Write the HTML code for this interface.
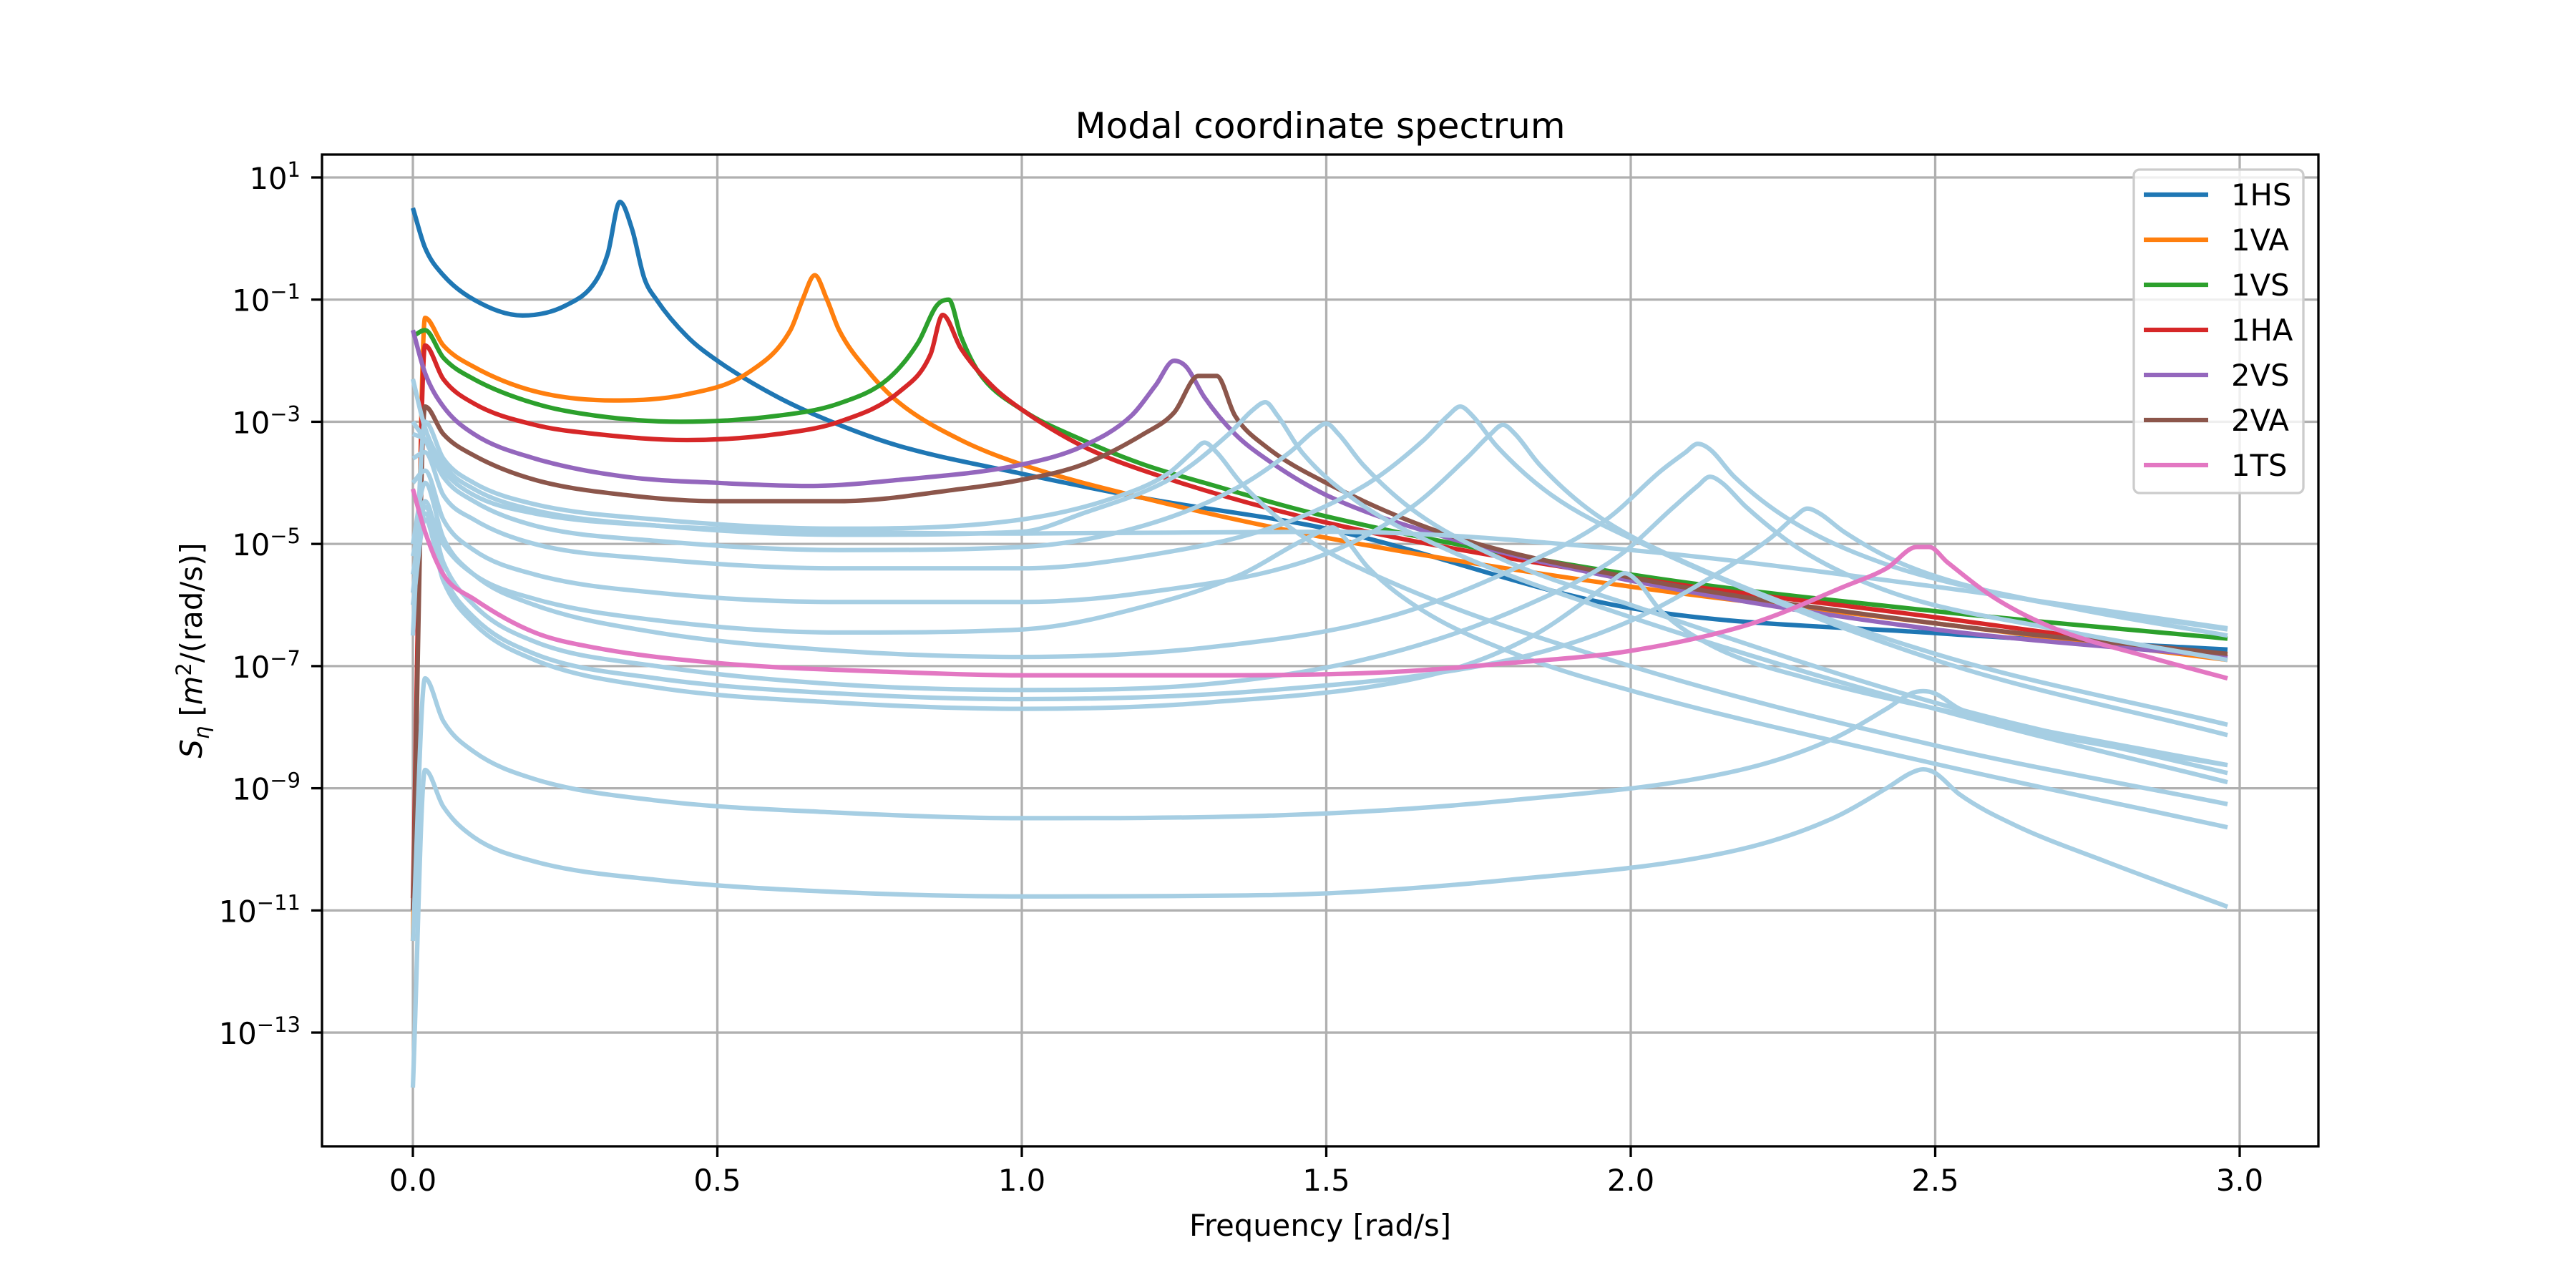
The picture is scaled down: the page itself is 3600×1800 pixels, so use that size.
<!DOCTYPE html>
<html><head><meta charset="utf-8"><style>
html,body{margin:0;padding:0;background:#fff;}
svg{display:block;font-family:"DejaVu Sans","Liberation Sans",sans-serif;}
</style></head><body>
<svg id="chart" width="3600" height="1800" viewBox="0 0 3600 1800" xmlns="http://www.w3.org/2000/svg">
<rect width="3600" height="1800" fill="#fff"/>
<defs><clipPath id="plotclip"><rect x="450" y="216" width="2790" height="1386"/></clipPath></defs>
<g id="grid"></g>
<g id="series" clip-path="url(#plotclip)"></g>
<rect x="450" y="216" width="2790" height="1386" fill="none" stroke="#000" stroke-width="3.3"/>
<g id="ticks"></g>
<text x="1845" y="193" font-size="50" text-anchor="middle">Modal coordinate spectrum</text>
<text x="1845" y="1727" font-size="41.7" text-anchor="middle">Frequency [rad/s]</text>
<text transform="translate(282,909) rotate(-90)" font-size="41.7" text-anchor="middle"><tspan font-style="italic">S</tspan><tspan font-style="italic" font-size="29" dy="10">η</tspan><tspan dy="-10"> [</tspan><tspan font-style="italic">m</tspan><tspan font-size="29" dy="-15">2</tspan><tspan dy="15">/(rad/s)]</tspan></text>
<g id="legend"></g>
</svg>
<script>
// ---- data: frequency [rad/s] and log10 of spectral values ----
const xTicks = [0.0, 0.5, 1.0, 1.5, 2.0, 2.5, 3.0];
const xTickLabels = ["0.0", "0.5", "1.0", "1.5", "2.0", "2.5", "3.0"];
const yTickExps = [1, -1, -3, -5, -7, -9, -11, -13];
const legendNames = ["1HS", "1VA", "1VS", "1HA", "2VS", "2VA", "1TS"];
const legendColors = ["#1f77b4", "#ff7f0e", "#2ca02c", "#d62728", "#9467bd", "#8c564b", "#e377c2"];
const lightBlue = "#a6cee3";

const hs1W = [0,0.02,0.05,0.1,0.18,0.25,0.3,0.32,0.34,0.36,0.38,0.4,0.45,0.5,0.6,0.7,0.8,1.0,1.2,1.5,2.0,2.5,2.98];
const hs1E = [0.5,-0.15,-0.6,-1.0,-1.26,-1.1,-0.7,-0.25,0.6,0.15,-0.65,-1.0,-1.6,-2.0,-2.6,-3.05,-3.4,-3.85,-4.25,-4.75,-6.05,-6.46,-6.73];
const va1W = [0,0.02,0.05,0.1,0.2,0.33,0.45,0.55,0.62,0.64,0.66,0.68,0.7,0.75,0.8,0.9,1.0,1.2,1.5,2.0,2.5,2.98];
const va1E = [-11.5,-1.3,-1.75,-2.1,-2.5,-2.65,-2.55,-2.2,-1.5,-1.0,-0.6,-1.0,-1.5,-2.2,-2.7,-3.3,-3.7,-4.25,-4.9,-5.7,-6.3,-6.9];
const vs1W = [0,0.02,0.05,0.1,0.2,0.3,0.44,0.6,0.7,0.78,0.83,0.86,0.88,0.9,0.93,1.0,1.1,1.2,1.3,1.5,2.0,2.5,2.98];
const vs1E = [-1.6,-1.5,-1.95,-2.3,-2.7,-2.9,-3.0,-2.9,-2.7,-2.3,-1.7,-1.1,-1.0,-1.6,-2.2,-2.8,-3.3,-3.7,-4.0,-4.55,-5.5,-6.1,-6.55];
const ha1W = [0,0.02,0.05,0.1,0.2,0.3,0.45,0.6,0.7,0.8,0.85,0.87,0.9,0.95,1.0,1.1,1.2,1.5,2.0,2.5,2.98];
const ha1E = [-10.8,-1.75,-2.3,-2.7,-3.05,-3.2,-3.3,-3.2,-3.0,-2.5,-1.9,-1.25,-1.8,-2.4,-2.8,-3.4,-3.8,-4.65,-5.55,-6.2,-6.85];
const vs2W = [0,0.02,0.05,0.1,0.2,0.35,0.5,0.65,0.8,1.0,1.1,1.18,1.22,1.25,1.27,1.3,1.35,1.4,1.5,1.7,2.0,2.5,2.98];
const vs2E = [-1.5,-2.2,-2.75,-3.2,-3.6,-3.9,-4.0,-4.05,-3.95,-3.7,-3.4,-2.9,-2.4,-2.0,-2.1,-2.6,-3.2,-3.6,-4.2,-4.9,-5.6,-6.4,-6.85];
const va2W = [0,0.02,0.05,0.1,0.2,0.35,0.5,0.7,0.9,1.0,1.1,1.2,1.25,1.29,1.32,1.35,1.4,1.5,1.7,2.0,2.5,2.98];
const va2E = [-11,-2.75,-3.2,-3.55,-3.95,-4.2,-4.3,-4.3,-4.1,-3.95,-3.7,-3.2,-2.85,-2.25,-2.25,-2.9,-3.4,-4.0,-4.85,-5.55,-6.3,-6.8];
const ts1W = [0,0.02,0.05,0.1,0.2,0.3,0.5,0.8,1.0,1.3,1.6,1.8,2.0,2.2,2.35,2.42,2.47,2.49,2.52,2.6,2.7,2.85,2.98];
const ts1E = [-4.1,-4.8,-5.5,-5.9,-6.45,-6.7,-6.95,-7.1,-7.15,-7.15,-7.1,-6.95,-6.75,-6.3,-5.7,-5.4,-5.05,-5.05,-5.3,-5.9,-6.4,-6.85,-7.2];

const lb1W = [0,0.02,0.05,0.1,0.2,0.4,0.7,1.0,1.15,1.24,1.28,1.30,1.32,1.36,1.45,1.6,2.0,2.5,2.98];
const lb1E = [-6.5,-3.0,-3.6,-4.0,-4.35,-4.6,-4.75,-4.6,-4.25,-3.85,-3.5,-3.34,-3.5,-4.0,-4.8,-5.6,-7.0,-8.3,-9.26];
const lb2W = [0,0.02,0.05,0.1,0.2,0.4,0.7,1.0,1.1,1.25,1.34,1.38,1.40,1.42,1.46,1.55,1.7,2.0,2.5,2.98];
const lb2E = [-2.3,-3.1,-3.7,-4.1,-4.45,-4.7,-4.85,-4.8,-4.5,-3.9,-3.2,-2.8,-2.68,-2.9,-3.5,-4.3,-5.1,-6.2,-7.7,-8.9];
const lb3W = [0,0.02,0.05,0.1,0.2,0.4,0.7,1.0,1.2,1.35,1.44,1.48,1.50,1.52,1.56,1.65,1.8,2.0,2.5,2.98];
const lb3E = [-3.0,-3.3,-3.9,-4.3,-4.7,-4.95,-5.1,-5.05,-4.7,-4.1,-3.5,-3.15,-3.03,-3.2,-3.7,-4.5,-5.3,-6.0,-7.6,-8.75];
const lb4W = [0,0.02,0.05,0.1,0.2,0.4,0.7,1.0,1.21,1.36,1.45,1.49,1.51,1.53,1.57,1.66,1.81,2.0,2.5,2.98];
const lb4E = [-5.2,-4.4,-5.0,-5.5,-5.9,-6.25,-6.45,-6.4,-6.0,-5.5,-5.0,-4.8,-4.73,-4.9,-5.4,-6.1,-6.8,-7.4,-8.6,-9.64];
const lb5W = [0,0.02,0.05,0.1,0.2,0.4,0.7,1.0,1.2,1.42,1.57,1.66,1.70,1.72,1.74,1.78,1.87,2.02,2.5,2.98];
const lb5E = [-3.6,-3.5,-4.2,-4.6,-5.0,-5.25,-5.4,-5.4,-5.2,-4.7,-4.0,-3.3,-2.9,-2.75,-2.9,-3.4,-4.2,-5.0,-6.9,-8.13];
const lb6W = [0,0.02,0.05,0.1,0.2,0.4,0.7,1.0,1.2,1.49,1.64,1.73,1.77,1.79,1.81,1.85,1.94,2.09,2.5,2.98];
const lb6E = [-4.0,-3.8,-4.6,-5.1,-5.5,-5.8,-5.95,-5.95,-5.8,-5.2,-4.4,-3.6,-3.2,-3.05,-3.2,-3.7,-4.5,-5.3,-6.8,-7.96];
const lb7W = [0,0.02,0.05,0.1,0.2,0.4,0.7,1.0,1.3,1.69,1.84,1.93,1.97,1.99,2.01,2.05,2.14,2.29,2.6,2.98];
const lb7E = [-6.0,-4.6,-5.6,-6.3,-6.9,-7.35,-7.6,-7.7,-7.6,-7.1,-6.5,-5.9,-5.6,-5.48,-5.6,-6.1,-6.7,-7.2,-7.9,-8.62];
const lb8W = [0,0.02,0.05,0.1,0.2,0.4,0.7,1.0,1.3,1.6,1.81,1.96,2.05,2.09,2.11,2.13,2.17,2.26,2.41,2.7,2.98];
const lb8E = [-5.0,-4.0,-4.9,-5.5,-6.0,-6.45,-6.75,-6.85,-6.7,-6.2,-5.4,-4.6,-3.8,-3.5,-3.36,-3.45,-3.9,-4.6,-5.3,-6.0,-6.5];
const lb9W = [0,0.02,0.05,0.1,0.2,0.4,0.7,1.0,1.3,1.6,1.83,1.98,2.07,2.11,2.13,2.15,2.19,2.28,2.43,2.7,2.98];
const lb9E = [-5.8,-4.3,-5.3,-6.0,-6.6,-7.0,-7.3,-7.39,-7.3,-6.8,-6.0,-5.2,-4.4,-4.05,-3.9,-4.0,-4.4,-5.1,-5.8,-6.4,-6.9];
const lb10W = [0,0.02,0.05,0.1,0.2,0.4,0.7,1.0,1.4,1.8,1.99,2.14,2.23,2.27,2.29,2.31,2.35,2.44,2.6,2.98];
const lb10E = [-5.5,-4.5,-5.5,-6.2,-6.8,-7.2,-7.45,-7.54,-7.4,-6.9,-6.3,-5.5,-4.9,-4.55,-4.42,-4.5,-4.8,-5.3,-5.8,-6.4];
const lb11W = [0,0.02,0.05,0.1,0.2,0.4,0.7,1.0,1.4,1.8,2.18,2.33,2.42,2.46,2.48,2.50,2.54,2.63,2.78,2.98];
const lb11E = [-11.5,-7.2,-7.9,-8.4,-8.85,-9.2,-9.4,-9.49,-9.45,-9.2,-8.7,-8.2,-7.7,-7.45,-7.41,-7.45,-7.7,-8.0,-8.3,-8.62];
const lb12W = [0,0.02,0.05,0.1,0.2,0.4,0.7,1.0,1.4,1.8,2.18,2.33,2.42,2.46,2.48,2.50,2.54,2.63,2.78,2.98];
const lb12E = [-13.9,-8.7,-9.3,-9.8,-10.2,-10.5,-10.7,-10.77,-10.75,-10.5,-10.0,-9.5,-9.0,-8.75,-8.69,-8.75,-9.1,-9.6,-10.2,-10.94];
const lb13W = [0,0.02,0.05,0.1,0.2,0.4,0.7,1.0,1.5,2.0,2.5,2.98];
const lb13E = [-3.2,-3.3,-3.8,-4.2,-4.5,-4.7,-4.8,-4.83,-4.8,-5.1,-5.7,-6.38];

// ---- scales ----
const X0 = 577, XS = 851;          // px at w=0, px per rad/s
const Y1 = 248, YD = 85.36;        // px at 10^1, px per decade
function sx(w){ return X0 + w * XS; }
function sy(e){ return Y1 - (e - 1) * YD; }

const NS = "http://www.w3.org/2000/svg";
function mk(tag, attrs, parent){
  const el = document.createElementNS(NS, tag);
  for (const k in attrs) el.setAttribute(k, attrs[k]);
  parent.appendChild(el);
  return el;
}

// grid + ticks
const grid = document.getElementById('grid');
const ticks = document.getElementById('ticks');
xTicks.forEach((t, i) => {
  const gl = mk('line', {x1: sx(t), x2: sx(t), y1: 216, y2: 1602, stroke: '#b0b0b0', 'stroke-width': 3.3}, grid);
  
  
  const tk = mk('line', {x1: sx(t), x2: sx(t), y1: 1602, y2: 1617, stroke: '#000', 'stroke-width': 3.3}, ticks);
  
  
  const tl = mk('text', {x: sx(t), y: 1664, 'font-size': 41.7, 'text-anchor': 'middle'}, ticks);
  tl.textContent = xTickLabels[i];
  
  
});
yTickExps.forEach(e => {
  const gl = mk('line', {x1: 450, x2: 3240, y1: sy(e), y2: sy(e), stroke: '#b0b0b0', 'stroke-width': 3.3}, grid);
  
  
  const tk = mk('line', {x1: 435, x2: 450, y1: sy(e), y2: sy(e), stroke: '#000', 'stroke-width': 3.3}, ticks);
  
  
  const tl = mk('text', {x: 420, y: sy(e) + 16, 'font-size': 41.7, 'text-anchor': 'end'}, ticks);
  const base = document.createElementNS(NS, 'tspan'); base.textContent = '10'; tl.appendChild(base);
  const sup = document.createElementNS(NS, 'tspan');
  sup.setAttribute('font-size', '29'); sup.setAttribute('dy', '-17');
  sup.textContent = (e < 0 ? '\u2212' : '') + Math.abs(e);
  tl.appendChild(sup);
  
  
});

// monotone cubic (Fritsch-Carlson) path through data points, no overshoot
function smoothPath(W, E){
  const px = W.map(sx), py = E.map(sy), n = px.length;
  const d = [], m = new Array(n);
  for (let i = 0; i < n - 1; i++) d.push((py[i+1] - py[i]) / (px[i+1] - px[i]));
  m[0] = d[0]; m[n-1] = d[n-2];
  for (let i = 1; i < n - 1; i++) m[i] = (d[i-1] * d[i] <= 0) ? 0 : (d[i-1] + d[i]) / 2;
  for (let i = 0; i < n - 1; i++) {
    if (d[i] === 0) { m[i] = 0; m[i+1] = 0; continue; }
    const a = m[i] / d[i], b = m[i+1] / d[i], s = a*a + b*b;
    if (s > 9) { const t = 3 / Math.sqrt(s); m[i] = t*a*d[i]; m[i+1] = t*b*d[i]; }
  }
  let p = 'M' + px[0].toFixed(1) + ',' + py[0].toFixed(1);
  for (let i = 0; i < n - 1; i++) {
    const h = (px[i+1] - px[i]) / 3;
    p += ' C' + (px[i] + h).toFixed(1) + ',' + (py[i] + m[i]*h).toFixed(1) + ' ' +
         (px[i+1] - h).toFixed(1) + ',' + (py[i+1] - m[i+1]*h).toFixed(1) + ' ' +
         px[i+1].toFixed(1) + ',' + py[i+1].toFixed(1);
  }
  return p;
}

// series
const seriesG = document.getElementById('series');
function drawLine(W, E, color, name){
  const pl = mk('path', {d: smoothPath(W, E), fill: 'none', stroke: color, 'stroke-width': 6.25, 'stroke-linejoin': 'round', 'stroke-linecap': 'butt'}, seriesG);
  
  
}
const lbW = [lb1W, lb2W, lb3W, lb4W, lb5W, lb6W, lb7W, lb8W, lb9W, lb10W, lb11W, lb12W, lb13W];
const lbE = [lb1E, lb2E, lb3E, lb4E, lb5E, lb6E, lb7E, lb8E, lb9E, lb10E, lb11E, lb12E, lb13E];
const mainW = [hs1W, va1W, vs1W, ha1W, vs2W, va2W, ts1W];
const mainE = [hs1E, va1E, vs1E, ha1E, vs2E, va2E, ts1E];
for (let i = 0; i < 6; i++) drawLine(mainW[i], mainE[i], legendColors[i], 'line-' + legendNames[i].toLowerCase());
for (let i = 0; i < lbW.length; i++) drawLine(lbW[i], lbE[i], lightBlue, 'line-other-mode-' + (i + 1));
drawLine(mainW[6], mainE[6], legendColors[6], 'line-1ts');

// legend
const lg = document.getElementById('legend');
const box = mk('rect', {x: 2982, y: 237, width: 237, height: 452, rx: 8, fill: '#fff', 'fill-opacity': 0.8, stroke: '#cccccc', 'stroke-width': 3.3}, lg);


legendNames.forEach((n, i) => {
  const yy = 272 + i * 63;
  const ln = mk('line', {x1: 2996, x2: 3086, y1: yy, y2: yy, stroke: legendColors[i], 'stroke-width': 6.25}, lg);
  
  
  const tx = mk('text', {x: 3118, y: yy + 15, 'font-size': 41.7}, lg);
  tx.textContent = n;
  
  
});
</script>
</body></html>
